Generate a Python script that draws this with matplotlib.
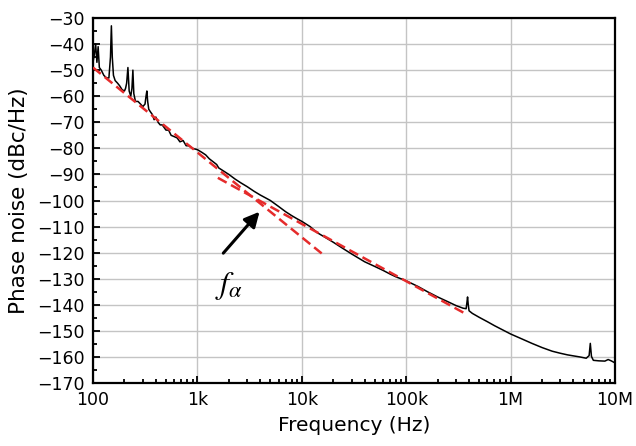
import matplotlib
matplotlib.use("Agg")
import matplotlib.pyplot as plt
from matplotlib.ticker import FixedLocator, MultipleLocator, LogLocator, NullFormatter

# measured phase noise trace (Hz, dBc/Hz)
freq = [100, 103, 106, 109, 112, 115, 120, 127, 135, 142, 147, 150, 153, 157,
        163, 172, 180, 190, 200, 205, 210, 216, 222, 230, 236, 241, 246, 255,
        270, 285, 300, 315, 322, 328, 334, 342, 355, 370, 385, 400, 420, 440,
        460, 480, 500, 530, 560, 600, 640, 680, 730, 780, 830, 900, 1000,
        1100, 1200, 1300, 1400, 1530, 1600, 1750, 2000, 2300, 2600, 3000,
        3500, 4000, 4500, 5000, 6000, 7000, 8000, 9000, 10000, 12000, 14000,
        17000, 20000, 25000, 30000, 40000, 50000, 60000, 70000, 80000, 100000,
        130000, 160000, 200000, 250000, 300000, 350000, 375000, 382000,
        387000, 393000, 400000, 430000, 500000, 600000, 700000, 800000,
        1000000, 1300000, 1600000, 2000000, 2500000, 3000000, 3500000,
        4000000, 4600000, 5300000, 5650000, 5800000, 5950000, 6200000,
        7000000, 8000000, 8600000, 9200000, 10000000]
noise = [-47, -44, -40, -47, -41, -49, -50, -52, -53, -53, -45, -33, -45, -52,
         -54, -55, -56, -57.5, -58, -57, -55, -49, -58, -60, -57, -50, -59, -62,
         -62, -63, -64, -63, -60, -58, -62, -65, -66, -67, -69, -68, -70, -71,
         -71, -72, -73, -73, -75, -75.5, -76, -77.5, -77, -79, -79, -80, -80.5,
         -81.5, -82.5, -84, -85, -86.2, -87.5, -88.5, -90, -91.8, -93.2, -94.7,
         -96.5, -97.9, -99, -100, -102.3, -104.3, -105.8, -107, -108, -110, -112.3,
         -114.3, -116, -118.5, -120.5, -123.5, -125.3, -126.8, -128.2, -129.3, -130.8,
         -133, -135, -137, -138.8, -140.3, -141.3, -141.5, -139,
         -137, -140, -142.3, -143.3, -144.8, -146.5, -148, -149.2,
         -151.2, -153.2, -154.8, -156.4, -157.8, -158.6, -159.2,
         -159.6, -160, -160.5, -159.5, -154.8, -159.8, -161.3,
         -161.5, -161.6, -161, -161.5, -162.3]

# fitted asymptotes (1/f^3 and 1/f^2 regions)
fit1_f = [100, 15500]
fit1_L = [-49, -120.3]
fit2_f = [1570, 388000]
fit2_L = [-91.3, -143.9]

xticks = [1e2, 1e3, 1e4, 1e5, 1e6, 1e7]
xticklabels = ["100", "1k", "10k", "100k", "1M", "10M"]

plt.rcParams['font.family'] = ['DejaVu Sans']

fig = plt.figure(figsize=(6.36, 4.46), dpi=100)
ax = fig.add_axes([93/636, 63/446, 522/636, 365/446])

ax.semilogx(freq, noise, color='black', lw=1.1, zorder=3)
red = '#e52b2b'
ax.plot(fit1_f, fit1_L, color=red, lw=1.8, ls=(0, (4, 2)), zorder=4)
ax.plot(fit2_f, fit2_L, color=red, lw=1.8, ls=(0, (4, 2)), zorder=4)

ax.set_xlim(100, 1e7)
ax.set_ylim(-170, -30)
ax.xaxis.set_major_locator(FixedLocator(xticks))
ax.set_xticklabels(xticklabels)
ax.xaxis.set_minor_locator(LogLocator(base=10, subs=range(2, 10), numticks=20))
ax.xaxis.set_minor_formatter(NullFormatter())
ax.yaxis.set_major_locator(MultipleLocator(10))
ax.yaxis.set_minor_locator(MultipleLocator(5))

ax.grid(True, which='major', color='#c4c4c4', lw=1.0, zorder=0)
ax.tick_params(which='both', direction='in', top=False, right=False,
               labelsize=12.5, width=1.3)
ax.tick_params(which='major', length=5, pad=6)
ax.tick_params(which='minor', length=3)
for s in ax.spines.values():
    s.set_linewidth(1.6)

ax.set_xlabel('Frequency (Hz)', fontsize=14.5, labelpad=5)
ax.set_ylabel('Phase noise (dBc/Hz)', fontsize=15.5, labelpad=6)

ax.annotate('', xy=(4100, -103.5), xytext=(1700, -121),
            arrowprops=dict(arrowstyle='-|>,head_length=0.9,head_width=0.45',
                            color='black', lw=2.2))
ax.text(1470, -135.5, r'$f_{\alpha}$', fontsize=23, math_fontfamily='stix',
        ha='left', va='baseline')

fig.savefig('out.png', dpi=100)
